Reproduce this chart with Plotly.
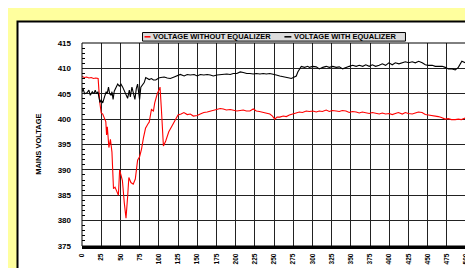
import plotly.graph_objects as go

W, H = 473, 268
L, R, T, B = 74, 12, 35, 20  # margins in px

series_names = ["VOLTAGE WITHOUT EQUALIZER", "VOLTAGE WITH EQUALIZER"]
series_colors = ["#ff0000", "#000000"]

red_x = [0, 3, 6, 9, 12, 15, 18, 21, 23, 25, 27, 29, 31, 32, 33, 35, 37, 39, 41, 43, 45.5, 47.4,
         49, 50.8, 52.6, 55, 57.3, 59.4, 61, 63.7, 66.7, 69.4, 72.4, 75, 77.5, 80, 82.7, 86, 87.5,
         90.4, 93, 94.7, 98, 101, 101.6, 103.4, 104.7, 106, 109, 113, 117.7, 122, 125, 129, 132.7,
         137, 141, 145, 150, 154, 158.6, 163, 167, 171, 175.7, 180, 184, 188, 193, 197, 201.6, 206,
         210, 214, 218.6, 223, 227, 231, 236, 240, 244.6, 248, 251, 254, 257.5, 262, 266, 270,
         274.6, 279, 283, 287, 292, 296, 300.6, 305, 309, 313, 318, 322, 326, 331, 335, 339, 343.7,
         348, 352, 357, 361, 365, 369.5, 374, 378, 382.4, 387, 391, 395.3, 400, 404, 408, 412, 417,
         421, 425, 430, 434, 438, 442.8, 447, 451, 456, 460, 464, 468, 472.8, 477, 481, 486, 490,
         494, 499]
red_y = [408.4, 408.2, 408.3, 408.1, 408.2, 408.0, 408.1, 408.0, 403.5, 401.2, 401.0, 400.2, 399.5,
         396.9, 398.5, 394.4, 396.0, 393.5, 386.3, 386.6, 385.7, 385.0, 390.0, 388.8, 387.9, 383.6,
         380.5, 384.7, 388.5, 387.5, 387.2, 388.2, 391.9, 392.6, 394.1, 396.3, 398.2, 399.1, 399.4,
         401.9, 401.6, 403.2, 405.0, 406.0, 406.3, 401.9, 398.2, 394.7, 395.7, 397.5, 398.8, 400.0,
         400.8, 401.0, 401.3, 400.9, 401.0, 400.6, 400.7, 401.0, 401.3, 401.4, 401.6, 401.8, 401.9,
         402.1, 402.0, 401.8, 401.9, 401.7, 401.6, 401.7, 401.8, 401.6, 401.6, 402.0, 401.6, 401.5,
         401.3, 401.2, 401.0, 400.6, 400.0, 400.4, 400.4, 400.6, 400.5, 400.8, 401.0, 401.2, 401.4,
         401.3, 401.6, 401.5, 401.6, 401.4, 401.6, 401.5, 401.8, 401.5, 401.7, 401.6, 401.5, 401.7,
         401.6, 401.3, 401.5, 401.4, 401.2, 401.4, 401.3, 401.1, 401.3, 401.2, 401.0, 401.2, 401.0,
         401.1, 400.9, 401.1, 401.3, 401.0, 401.3, 401.1, 401.0, 401.2, 401.4, 401.3, 400.9, 400.8,
         400.7, 400.5, 400.5, 400.3, 400.0, 400.1, 399.9, 399.9, 400.0, 399.9, 400.2]

black_x = [0, 1.3, 3.4, 6.5, 9, 10.8, 13.4, 15.5, 17.2, 19, 20.7, 22, 23.3, 25, 27, 29.3, 31.5, 32.7,
           34.5, 36, 38, 39, 40.5, 42, 44, 46.5, 48.6, 50.8, 53, 55, 57.3, 59.4, 61.6, 62.9, 65,
           67.2, 68.9, 70.7, 72.4, 74, 75, 76.6, 78.8, 81, 83, 85, 87.5, 90.4, 93, 96, 98, 100,
           102.5, 107, 111, 115, 120, 124, 128, 133, 137, 141, 146, 150, 154, 158.6, 163, 167, 171,
           175.7, 180, 184, 188.6, 193, 197, 201.6, 206, 210, 214.5, 218.6, 223, 227, 231.7, 236,
           240, 244.6, 249, 253, 257.5, 262, 266, 270, 272.6, 274.6, 279, 281, 283, 285.5, 289.8,
           294, 296, 300.6, 305, 309, 313.5, 318, 322, 326.5, 331, 335, 339.5, 343.7, 348, 352.4,
           357, 361, 365.5, 369.5, 374, 378, 382.4, 387, 391, 395.3, 399.6, 404, 408, 412.7, 417,
           421, 425.4, 430, 434, 438.4, 443, 447, 451, 456, 460, 464, 469, 473, 477, 482, 486, 490,
           492.4, 494.6, 499]
black_y = [405.4, 406.0, 405.0, 405.2, 405.7, 404.7, 405.4, 405.0, 405.7, 405.0, 405.4, 404.4, 403.3,
           403.8, 403.2, 404.4, 405.4, 405.0, 406.3, 405.0, 404.7, 405.4, 403.9, 405.5, 406.3, 406.9,
           406.5, 406.9, 406.3, 405.7, 404.7, 404.1, 405.7, 404.4, 406.3, 405.0, 403.9, 406.0, 406.9,
           405.0, 403.9, 406.3, 406.8, 407.2, 408.2, 408.0, 407.8, 408.0, 407.7, 407.7, 408.0, 408.1,
           408.2, 408.3, 408.1, 408.0, 408.3, 408.5, 408.8, 408.5, 408.8, 408.7, 408.8, 408.5, 408.8,
           408.7, 408.8, 408.7, 408.5, 408.7, 408.8, 408.8, 408.9, 408.8, 409.0, 409.0, 409.3, 409.2,
           409.0, 409.0, 408.9, 409.0, 408.9, 409.0, 408.9, 409.0, 408.9, 408.7, 408.5, 408.3, 408.2,
           408.1, 408.0, 408.2, 408.5, 409.3, 409.9, 410.4, 410.2, 410.4, 410.2, 410.4, 410.3, 409.9,
           410.2, 410.4, 410.2, 410.4, 410.2, 410.3, 409.9, 410.2, 410.4, 410.6, 410.4, 410.6, 410.4,
           410.7, 410.4, 410.7, 410.4, 410.6, 410.9, 410.6, 411.1, 410.7, 411.1, 410.9, 411.1, 411.3,
           411.1, 411.3, 411.1, 411.4, 411.1, 410.7, 410.6, 410.6, 410.4, 410.4, 410.4, 410.2, 409.9,
           409.9, 409.7, 410.2, 410.7, 411.4, 411.1]

x_ticks = list(range(0, 501, 25))
y_range = [375, 415]
x_range = [0, 500]
y_title = "MAINS VOLTAGE"

PW, PH = W - L - R, H - T - B


def px(xp):
    return (xp - L) / PW


def py(yp):
    return (H - B - yp) / PH


fig = go.Figure()
fig.add_trace(go.Scatter(x=red_x, y=red_y, mode="lines", name=series_names[0],
                         line=dict(color=series_colors[0], width=1.1), showlegend=False))
fig.add_trace(go.Scatter(x=black_x, y=black_y, mode="lines", name=series_names[1],
                         line=dict(color=series_colors[1], width=1.1), showlegend=False))

font_b = dict(family="Liberation Sans, Arial", size=7.5, color="black", weight="bold")

shapes = [
    # white panel with black frame
    dict(type="rect", xref="paper", yref="paper", x0=px(9), x1=px(472), y0=py(12.5), y1=py(275),
         fillcolor="white", line=dict(color="black", width=2), layer="below"),
    # plot frame
    dict(type="rect", xref="paper", yref="paper", x0=0, x1=1, y0=0, y1=1,
         line=dict(color="black", width=1), layer="above"),
    # legend box
    dict(type="rect", xref="paper", yref="paper", x0=px(135), x1=px(400), y0=py(33), y1=py(24),
         fillcolor="#dcdcdc", line=dict(color="black", width=1), layer="above"),
    dict(type="line", xref="paper", yref="paper", x0=px(137), x1=px(143), y0=py(28.5), y1=py(28.5),
         line=dict(color=series_colors[0], width=1.5)),
    dict(type="line", xref="paper", yref="paper", x0=px(278), x1=px(285), y0=py(28.5), y1=py(28.5),
         line=dict(color=series_colors[1], width=1.5)),
]

annotations = [
    dict(text=series_names[0], xref="paper", yref="paper", x=px(144), y=py(28.5), xanchor="left",
         yanchor="middle", showarrow=False, font=font_b),
    dict(text=series_names[1], xref="paper", yref="paper", x=px(286), y=py(28.5), xanchor="left",
         yanchor="middle", showarrow=False, font=font_b),
    dict(text=y_title, xref="paper", yref="paper", x=px(30), y=0.5, xanchor="center",
         yanchor="middle", textangle=-90, showarrow=False, font=font_b),
]

fig.update_layout(
    width=W, height=H,
    margin=dict(l=L, r=R, t=T, b=B, pad=0),
    paper_bgcolor="#ffff9e",
    plot_bgcolor="#dedede",
    shapes=shapes,
    annotations=annotations,
    showlegend=False,
    xaxis=dict(range=x_range, tickvals=x_ticks, tickangle=-90, showgrid=True, gridcolor="#222222",
               gridwidth=1, zeroline=False, showline=True, linecolor="black", linewidth=3,
               ticks="", ticklabelstandoff=2,
               tickfont=dict(family="Liberation Sans, Arial", size=6.5, color="black",
                             weight="bold"), fixedrange=True),
    yaxis=dict(range=y_range, dtick=5, showgrid=True, gridcolor="#222222", gridwidth=1,
               zeroline=False, showline=False, ticks="", ticklabelstandoff=10,
               tickfont=dict(family="Liberation Sans, Arial", size=8, color="black", weight="bold"),
               minor=dict(ticks="inside", dtick=1, ticklen=3, tickcolor="black", tickwidth=1,
                          showgrid=False), fixedrange=True),
)

fig.write_html("out.html")
